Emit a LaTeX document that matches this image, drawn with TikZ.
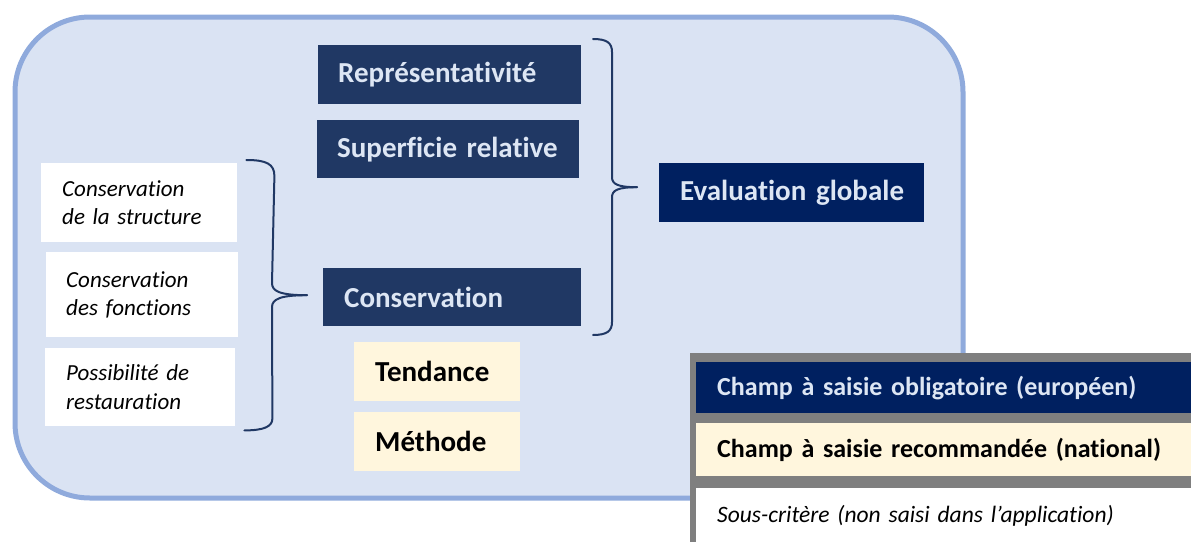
\documentclass[tikz,border=0pt]{standalone}
\usepackage{fontspec}
\setmainfont{Carlito}[Ligatures={NoCommon}]
\usetikzlibrary{calc}
\definecolor{panelfill}{HTML}{DAE3F3}
\definecolor{panelline}{HTML}{8FAADC}
\definecolor{navyA}{HTML}{203864}
\definecolor{navyB}{HTML}{002060}
\definecolor{cream}{HTML}{FFF6DD}
\definecolor{lighttext}{HTML}{DDE6F4}
\definecolor{legendgray}{HTML}{7F7F7F}
\tikzset{
  panel/.style={draw=panelline, fill=panelfill, line width=5pt, rounded corners=75pt},
  crit/.style={fill=navyA, text=lighttext, font=\fontsize{29}{34}\selectfont\bfseries,
    inner xsep=20pt, inner ysep=0pt, align=left, anchor=north west},
  natl/.style={fill=cream, text=black, font=\fontsize{29}{34}\selectfont\bfseries,
    inner xsep=21pt, inner ysep=0pt, align=left, anchor=north west},
  sub/.style={fill=white, text=black, font=\fontsize{23}{28.5}\selectfont\itshape,
    inner xsep=20pt, inner ysep=0pt, align=left, anchor=north west},
  legrow/.style={inner xsep=21pt, inner ysep=0pt, align=left, anchor=north west,
    font=\fontsize{26}{31}\selectfont},
  bracestyle/.style={draw=navyA, line width=2pt, line cap=round}
}
\begin{document}
\begin{tikzpicture}[x=1pt,y=-1pt]
\useasboundingbox (0,0) rectangle (1191,541);
\clip (0,0) rectangle (1191,541);
% container
\node[panel, minimum width=948pt, minimum height=481pt, anchor=north west] (panel) at (12.5,14.5) {};
% main criteria
\node[crit, text width=223pt, minimum height=59pt] (rep) at (318,45) {\mbox{Représentativité}};
\node[crit, text width=222pt, minimum height=58pt] (sup) at (317,120) {\mbox{Superficie relative}};
\node[crit, text width=216pt, minimum height=58pt, inner xsep=21pt] (cons) at (323,268) {\mbox{Conservation}};
\node[crit, fill=navyB, text width=223pt, minimum height=59pt, inner xsep=21pt] (eval) at (659,163) {\mbox{Evaluation globale}};
% national fields
\node[natl, text width=124pt, minimum height=59pt] (tend) at (354,342) {\mbox{Tendance}};
\node[natl, text width=124pt, minimum height=59pt] (meth) at (354,412) {\mbox{Méthode}};
% sub-criteria
\node[sub, text width=154pt, minimum height=79pt, inner xsep=21pt] (s1) at (41,163) {Conservation\\de la structure};
\node[sub, text width=152pt, minimum height=85pt] (s2) at (46,252) {Conservation\\des fonctions};
\node[sub, text width=148pt, minimum height=78pt, inner xsep=21pt] (s3) at (45,348) {Possibilité de\\restauration};
% left brace
\coordinate (lbt) at ($(s1.north east)+(9,-3)$);
\coordinate (lbb) at ($(s3.south east)+(9,4)$);
\coordinate (lbm) at ($(cons.west)+(-16,-2)$);
\draw[bracestyle] (lbt) .. controls ($(lbt)+(20,0)$) and ($(lbt)+(28,4)$) .. ($(lbt)+(28,16)$)
  -- ($(lbm)+(-35,-12)$) .. controls ($(lbm)+(-35,-4)$) and ($(lbm)+(-27,0)$) .. (lbm);
\draw[bracestyle] (lbm) .. controls ($(lbm)+(-27,0)$) and ($(lbm)+(-35,4)$) .. ($(lbm)+(-35,12)$)
  -- ($(lbb)+(28,-12)$) .. controls ($(lbb)+(28,-4)$) and ($(lbb)+(20,0)$) .. (lbb);
% right brace
\coordinate (rbt) at (593,39);
\coordinate (rbb) at (593,335);
\coordinate (rbm) at ($(eval.west)+(-22,-5.5)$);
\draw[bracestyle] (rbt) .. controls ($(rbt)+(14,0)$) and ($(rbt)+(19,4)$) .. ($(rbt)+(19,13)$)
  -- ($(rbm)+(-25,-10)$) .. controls ($(rbm)+(-25,-3)$) and ($(rbm)+(-19,0)$) .. (rbm);
\draw[bracestyle] (rbm) .. controls ($(rbm)+(-19,0)$) and ($(rbm)+(-25,3)$) .. ($(rbm)+(-25,10)$)
  -- ($(rbb)+(19,-13)$) .. controls ($(rbb)+(19,-4)$) and ($(rbb)+(14,0)$) .. (rbb);
% legend
\fill[legendgray] (690,353) rectangle (1200,550);
\node[legrow, fill=navyB, text=lighttext, font=\fontsize{26}{31}\selectfont\bfseries,
  text width=462pt, minimum height=51pt] (leg1) at (696,362) {Champ à saisie obligatoire (européen)};
\node[legrow, fill=cream, text=black, font=\fontsize{26}{31}\selectfont\bfseries,
  text width=462pt, minimum height=53pt] (leg2) at (696,423) {Champ à saisie recommandée (national)};
\node[legrow, fill=white, text=black, font=\fontsize{23.5}{28}\selectfont\itshape,
  text width=462pt, minimum height=55pt] (leg3) at (696,488) {Sous-critère (non saisi dans l’application)};
\end{tikzpicture}
\end{document}
